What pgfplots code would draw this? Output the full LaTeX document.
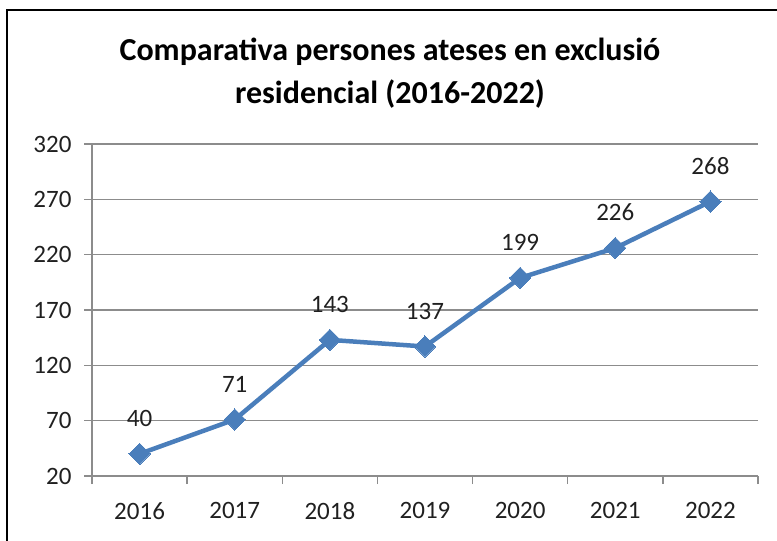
\documentclass[border=0pt]{standalone}
\usepackage{pgfplots}
\pgfplotsset{compat=1.18}
\usepackage{fontspec}
\setmainfont{Carlito}
\definecolor{exblue}{HTML}{4A7EBB}
\definecolor{gridgray}{HTML}{8C8C8C}
\definecolor{txt}{HTML}{202020}
\begin{document}
\begin{tikzpicture}
\useasboundingbox (0,0) rectangle (777pt,541pt);
\draw[line width=2pt, black] (7pt,-20pt) -- (7pt,531pt) -- (800pt,531pt);
\node[font=\fontsize{32}{43}\selectfont\bfseries, align=center, text=black]
  at (390pt,468pt) {Comparativa persones ateses en exclusió\\residencial (2016-2022)};
\begin{axis}[
  at={(92pt,65pt)}, anchor=south west,
  scale only axis, width=666pt, height=332pt,
  xmin=-0.5, xmax=6.5, ymin=20, ymax=320,
  ytick={20,70,...,320},
  xtick={0,...,6},
  xticklabels={2016,2017,2018,2019,2020,2021,2022},
  minor xtick={-0.5,0.5,...,6.5},
  axis x line*=bottom, axis y line*=left,
  axis line style={gridgray, line width=1.5pt, -},
  tick align=outside,
  major tick length=8pt, minor tick length=8pt,
  major x tick style={draw=none},
  minor x tick style={gridgray, line width=1.5pt},
  major y tick style={gridgray, line width=1.5pt},
  ymajorgrids,
  major grid style={gridgray, line width=1.5pt},
  tick label style={font=\fontsize{25}{30}\selectfont, text=txt},
  yticklabel style={xshift=-9pt},
  xticklabel style={yshift=-15pt},
  /pgf/number format/assume math mode=true,
  nodes near coords,
  every node near coord/.append style={font=\fontsize{25}{30}\selectfont, text=txt, yshift=24pt},
  clip=false,
]
\addplot[exblue, line width=4.5pt, mark=square*, mark size=7.5pt,
  mark options={rotate=45, solid, line width=0pt}]
  coordinates {(0,40)(1,71)(2,143)(3,137)(4,199)(5,226)(6,268)};
\end{axis}
\end{tikzpicture}
\end{document}
